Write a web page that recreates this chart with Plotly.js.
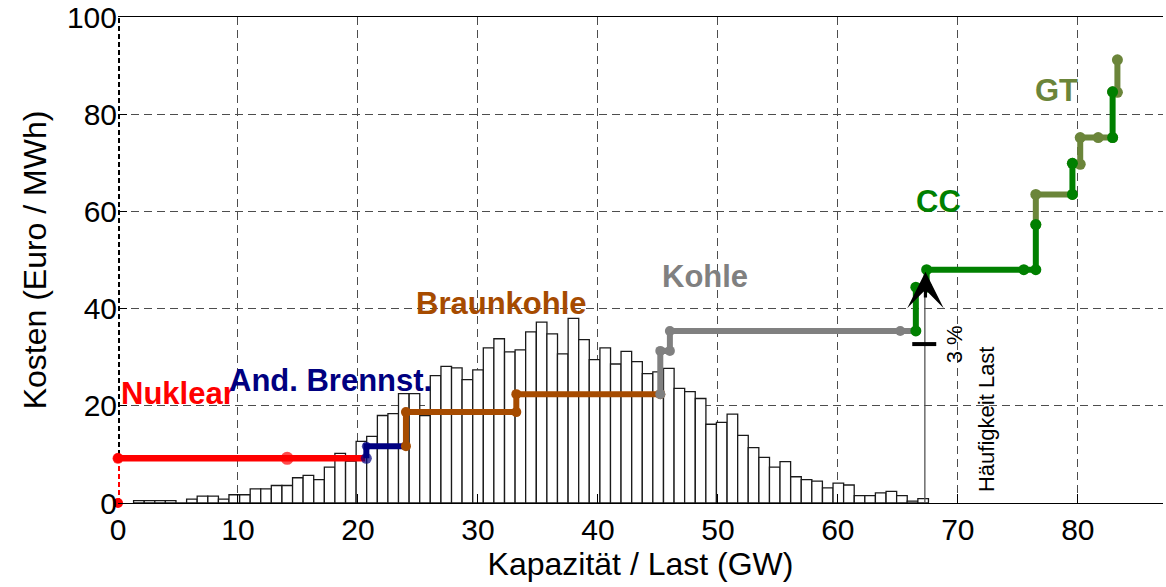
<!DOCTYPE html>
<html>
<head>
<meta charset="utf-8">
<script src="https://cdn.plot.ly/plotly-3.0.1.min.js"></script>
<style>html,body{margin:0;padding:0;background:#fff;}#chart{width:1166px;height:587px;}</style>
</head>
<body>
<div id="chart"></div>
<script>
// Histogram of load (Häufigkeit Last): bin centres (GW) and heights
const loadBinCenters = [1.74,2.63,3.51,4.39,5.28,6.16,7.04,7.93,8.81,9.69,
  10.58,11.46,12.34,13.22,14.11,14.99,15.87,16.76,17.64,18.52,
  19.41,20.29,21.17,22.06,22.94,23.82,24.71,25.59,26.47,27.36,
  28.24,29.12,30.01,30.89,31.77,32.66,33.54,34.42,35.31,36.19,
  37.07,37.96,38.84,39.72,40.61,41.49,42.37,43.26,44.14,45.02,
  45.91,46.79,47.67,48.56,49.44,50.32,51.21,52.09,52.97,53.86,
  54.74,55.62,56.51,57.39,58.27,59.16,60.04,60.92,61.81,62.69,
  63.57,64.46,65.34,66.22,67.11];
const loadBinHeights = [0.5,0.5,0.5,0.5,0,0.8,1.4,1.4,0.8,1.7,
  1.7,2.9,2.9,3.6,3.6,5.2,5.7,4.8,7.4,10.2,
  8.6,12.7,13.7,18.0,18.4,22.5,22.5,18.0,26.2,28.1,
  27.8,25.4,27.4,31.9,33.8,31.1,31.5,35.2,37.2,34.8,
  30.7,38.0,33.6,29.5,31.9,28.6,31.2,29.1,26.6,27.0,
  27.7,23.6,22.9,21.5,16.2,16.6,18.3,13.9,11.4,9.4,
  7.4,8.5,5.4,4.8,4.5,3.1,4.1,3.7,1.5,1.5,
  2.1,2.4,1.5,0.4,0.9];
const binWidth = 0.8833;

// Merit-order supply curve (capacity GW, cost Euro/MWh)
const nuklearDashX = [0, 0];
const nuklearDashY = [0, 9.2];
const nuklearX = [0, 14.1, 20.6];
const nuklearY = [9.2, 9.2, 9.2];
const brennstX = [20.7, 20.7, 24.0];
const brennstY = [9.2, 11.7, 11.7];
const braunX = [24.0, 24.0, 33.2, 33.2, 45.2];
const braunY = [11.7, 18.7, 18.7, 22.4, 22.4];
const kohleX = [45.2, 45.2, 46.0, 46.0, 65.2, 66.5];
const kohleY = [22.4, 31.3, 31.3, 35.4, 35.4, 35.4];
const ccX = [66.5, 66.5, 67.4, 67.4, 75.5, 76.5, 76.5, null, 79.55, 79.55, null, 82.9, 82.9];
const ccY = [35.4, 44.4, 44.4, 48.0, 48.0, 48.0, 57.3, null, 63.5, 69.9, null, 75.2, 84.6];
const gtX = [76.5, 76.5, 79.55, null, 79.55, 80.2, 80.2, 81.7, 82.9, null, 82.9, 83.3, 83.3];
const gtY = [57.3, 63.5, 63.5, null, 69.9, 69.7, 75.2, 75.2, 75.2, null, 84.6, 84.5, 91.2];

// Load marker (3 % line) and axis dashed line
const lastLineX = [67.25, 67.25];
const lastLineY = [0, 44];
const barX = [66.2, 68.2];
const barY = [32.7, 32.7];
const axisDashX = [0, 0];
const axisDashY = [0, 100];

const labels = [
  {t: 'Nuklear', x: 4.98, y: 22.5, c: '#ff0000'},
  {t: 'And. Brennst.', x: 17.7, y: 25.3, c: '#000080'},
  {t: 'Braunkohle', x: 32.0, y: 41.0, c: '#a64b00'},
  {t: 'Kohle', x: 48.9, y: 46.7, c: '#808080'},
  {t: 'CC', x: 68.4, y: 62.0, c: '#008000'},
  {t: 'GT', x: 78.2, y: 84.9, c: '#6b853a'}
];

const FONT = 'Liberation Sans, Arial, Helvetica, sans-serif';

function stepTrace(x, y, color, width, msize, dash) {
  return {x: x, y: y, type: 'scatter', mode: 'lines+markers', connectgaps: false,
    line: {color: color, width: width, dash: dash || 'solid'},
    marker: {color: color, size: msize, line: {width: 0}}, hoverinfo: 'skip', cliponaxis: false};
}

const traces = [
  {x: loadBinCenters, y: loadBinHeights, type: 'bar', width: binWidth,
   marker: {color: '#ffffff', line: {color: '#1a1a1a', width: 1.3}}, hoverinfo: 'skip'},
  {x: axisDashX, y: axisDashY, type: 'scatter', mode: 'lines',
   line: {color: '#000000', width: 4, dash: '5px,3px'}, hoverinfo: 'skip', cliponaxis: false},
  {x: lastLineX, y: lastLineY, type: 'scatter', mode: 'lines',
   line: {color: '#555555', width: 1.3}, hoverinfo: 'skip'},
  stepTrace(nuklearDashX, nuklearDashY, '#ff0000', 4, 10, '5px,3px'),
  stepTrace(nuklearX, nuklearY, '#ff0000', 6.5, [11, 13, 0]),
  stepTrace(brennstX, brennstY, '#000080', 6, [11, 9, 0]),
  stepTrace(braunX, braunY, '#a64b00', 6, 10),
  stepTrace(kohleX, kohleY, '#808080', 6, 10),
  stepTrace(gtX, gtY, '#6b853a', 6, 11),
  stepTrace(ccX, ccY, '#008000', 6, 11),
  {x: barX, y: barY, type: 'scatter', mode: 'lines',
   line: {color: '#000000', width: 4}, hoverinfo: 'skip'}
];

const annotations = labels.map(l => ({
  x: l.x, y: l.y, xref: 'x', yref: 'y', text: '<b>' + l.t + '</b>', showarrow: false,
  font: {family: FONT, size: 31, color: l.c}, xanchor: 'center', yanchor: 'middle'
}));
annotations.push({x: 67.3, y: 47.6, ax: 67.3, ay: 42.0, xref: 'x', yref: 'y', axref: 'x', ayref: 'y',
  text: '', showarrow: true, arrowhead: 3, arrowsize: 1.9, arrowwidth: 3.2, arrowcolor: '#000000'});
annotations.push({x: 69.7, y: 32.7, xref: 'x', yref: 'y', text: '3 %', showarrow: false, textangle: -90,
  font: {family: FONT, size: 22, color: '#000000'}});
annotations.push({x: 72.4, y: 17.2, xref: 'x', yref: 'y', text: 'Häufigkeit Last', showarrow: false, textangle: -90,
  font: {family: FONT, size: 22, color: '#000000'}});

const layout = {
  width: 1166, height: 587,
  margin: {l: 118, r: 3, t: 17, b: 84},
  paper_bgcolor: '#ffffff', plot_bgcolor: '#ffffff',
  showlegend: false, hovermode: false, bargap: 0,
  font: {family: FONT, size: 30, color: '#000000'},
  xaxis: {
    range: [0, 87.1], tickvals: [0,10,20,30,40,50,60,70,80], ticks: 'inside', ticklen: 9,
    tickcolor: '#000', showline: true, linecolor: '#000', linewidth: 1.3, mirror: true,
    showgrid: true, gridcolor: '#4d4d4d', gridwidth: 1, griddash: '8px,5px', zeroline: false,
    tickfont: {family: FONT, size: 30},
    title: {text: 'Kapazität / Last (GW)', font: {family: FONT, size: 32}, standoff: 6}
  },
  yaxis: {
    range: [0, 100], tickvals: [0,20,40,60,80,100], ticks: 'inside', ticklen: 9,
    tickcolor: '#000', showline: false, showgrid: true, gridcolor: '#4d4d4d', gridwidth: 1,
    griddash: '8px,5px', zeroline: false,
    tickfont: {family: FONT, size: 30},
    title: {text: 'Kosten (Euro / MWh)', font: {family: FONT, size: 32}, standoff: 10}
  },
  annotations: annotations
};

Plotly.newPlot('chart', traces, layout, {staticPlot: true, displayModeBar: false});
</script>
</body>
</html>
